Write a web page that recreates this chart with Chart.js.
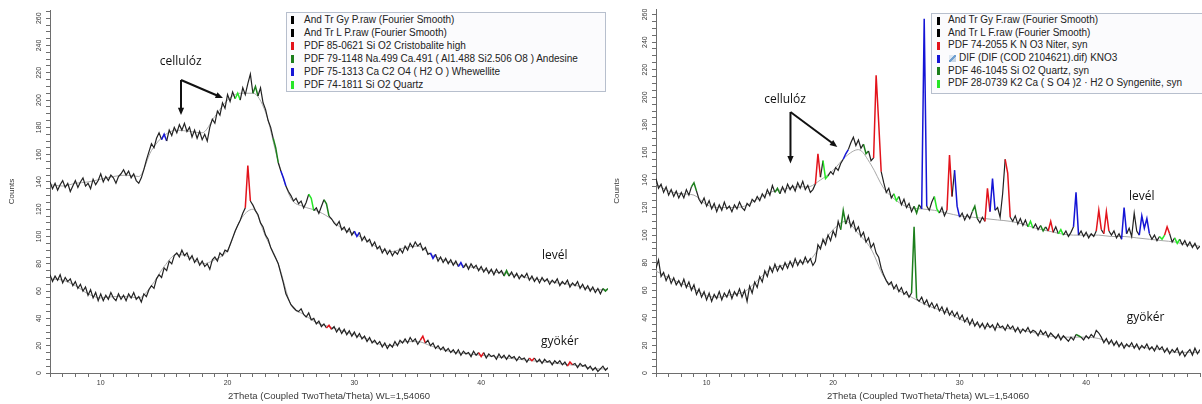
<!DOCTYPE html>
<html>
<head>
<meta charset="utf-8">
<script src="https://cdn.jsdelivr.net/npm/chart.js@4.4.1/dist/chart.umd.min.js"></script>
<style>
  body { margin: 0; background: #fff; width: 1202px; height: 404px; overflow: hidden; position: relative;
         font-family: "Liberation Sans", Arial, sans-serif; }
  canvas { position: absolute; top: 0; }
  #leftChart { left: 0; }
  #rightChart { left: 610px; }
  .legend { position: absolute; border: 1px solid #b7bfcd; background: #fbfbfd; font-size: 10px; color: #222; }
  .legend div { position: relative; white-space: nowrap; }
  .legend i { position: absolute; width: 3px; height: 8px; }
  #leftLegend { left: 286px; top: 12px; width: 318px; height: 78px; }
  #leftLegend div { height: 13px; line-height: 13px; padding-left: 17px; }
  #leftLegend i { left: 4px; top: 3px; }
  #rightLegend { left: 931px; top: 13px; width: 290px; height: 79px; }
  #rightLegend div { height: 12.7px; line-height: 12.7px; padding-left: 16px; }
  #rightLegend i { left: 5px; top: 2.5px; }
  .dif { display: inline-block; width: 7px; height: 7px; margin: 0 3px 0 1px; vertical-align: -1px;
         background: linear-gradient(135deg, #dfe8f2 0 40%, #6f9fd0 40% 60%, #c9d6e4 60%); }
</style>
</head>
<body>
<canvas id="leftChart" width="610" height="404"></canvas>
<canvas id="rightChart" width="592" height="404"></canvas>
<div class="legend" id="leftLegend"></div>
<div class="legend" id="rightLegend"></div>
<script>
// Scan grid: 2Theta from 6° in 0.2° steps; background curves in 1° steps
const SCAN_START = 6;
const SCAN_STEP = 0.2;
const BG_STEP = 1;

const xTickLabels = [10, 20, 30, 40];
const yTickLabels = [0, 20, 40, 60, 80, 100, 120, 140, 160, 180, 200, 220, 240, 260];

// P series (left) — Fourier-smoothed counts
const leafP = [
  140, 135, 139, 134, 138, 141, 136, 139, 133, 137,
  141, 136, 140, 143, 137, 139, 135, 142, 138, 141,
  146, 140, 144, 141, 145, 143, 139, 144, 146, 149,
  145, 148, 143, 146, 141, 139, 143, 149, 156, 162,
  168, 165, 172, 176, 171, 175, 170, 178, 174, 180,
  176, 182, 178, 183, 177, 180, 173, 178, 172, 177,
  171, 175, 170, 180, 186, 183, 192, 189, 198, 194,
  204, 199, 206, 201, 205, 200, 209, 204, 212, 219,
  205, 210, 203, 209, 198, 193, 185, 180, 172, 165,
  154, 148, 143, 137, 133, 130, 126, 128, 124, 126,
  121, 125, 131, 128, 119, 121, 117, 122, 127, 124,
  115, 113, 110, 108, 111, 105, 107, 103, 106, 101,
  104, 100, 103, 97, 100, 96, 98, 93, 96, 91,
  93, 88, 91, 87, 90, 86, 89, 87, 91, 88,
  93, 90, 95, 92, 96, 93, 95, 90, 92, 87,
  88, 84, 87, 82, 85, 81, 84, 80, 83, 79,
  82, 78, 81, 77, 80, 76, 80, 77, 79, 75,
  78, 74, 77, 73, 76, 72, 76, 73, 75, 71,
  75, 71, 74, 70, 73, 69, 72, 70, 73, 68,
  71, 67, 70, 66, 70, 67, 69, 65, 68, 66,
  69, 64, 67, 65, 68, 63, 66, 64, 67, 62,
  65, 61, 64, 60, 63, 59, 62, 58, 62, 60,
  62
];
const rootP = [
  72, 67, 71, 68, 72, 66, 70, 67, 69, 64,
  67, 62, 65, 60, 63, 57, 61, 55, 59, 53,
  58, 53, 57, 54, 59, 55, 53, 58, 54, 57,
  53, 58, 55, 59, 54, 56, 52, 58, 56, 61,
  64, 62, 69, 72, 70, 77, 75, 82, 80, 86,
  88, 85, 90, 86, 88, 83, 86, 81, 84, 79,
  82, 78, 80, 76, 83, 85, 82, 88, 86, 90,
  89, 94, 99, 104, 108, 112, 117, 121, 152, 126,
  123, 119, 116, 110, 107, 101, 98, 92, 88, 84,
  80, 73, 66, 58, 54, 50, 48, 46, 45, 47,
  43, 41, 44, 39, 40, 36, 38, 34, 36, 33,
  35, 32, 34, 30, 33, 29, 32, 28, 31, 27,
  30, 26, 29, 25, 27, 23, 26, 22, 24, 21,
  23, 19, 22, 18, 21, 19, 23, 20, 24, 22,
  25, 22, 26, 23, 25, 21, 24, 27, 22, 24,
  20, 22, 18, 20, 17, 19, 16, 18, 15, 17,
  14, 17, 13, 16, 14, 15, 12, 16, 13, 15,
  12, 15, 11, 14, 12, 13, 10, 14, 11, 13,
  10, 13, 11, 12, 9, 12, 10, 11, 8, 11,
  9, 11, 8, 10, 7, 10, 8, 9, 6, 9,
  7, 9, 6, 8, 5, 8, 6, 7, 4, 7,
  5, 6, 3, 5, 2, 4, 1, 3, 5, 2,
  4
];
const leafPBg = [
  138, 137, 139, 140, 142, 144, 145, 144, 163, 174,
  178, 177, 176, 188, 200, 205, 205, 191, 155, 128,
  122, 119, 114, 106, 102, 97, 91, 89, 92, 93,
  87, 83, 80, 78, 76, 74, 73, 71, 69, 68,
  66, 65, 63, 61, 61
];
const rootPBg = [
  69, 68, 64, 58, 55, 56, 56, 55, 64, 78,
  87, 85, 80, 83, 90, 112, 120, 100, 80, 50,
  43, 37, 34, 31, 28, 25, 21, 20, 23, 23,
  20, 17, 15, 14, 13, 12, 11, 10, 9, 8,
  7, 6, 5, 3, 3
];

// F series (right)
const leafF = [
  141, 134, 137, 131, 135, 129, 133, 128, 132, 127,
  131, 127, 133, 129, 135, 138, 132, 126, 123, 127,
  121, 125, 119, 123, 117, 122, 118, 124, 119, 121,
  117, 122, 119, 124, 120, 118, 123, 121, 126, 124,
  128, 125, 130, 127, 133, 129, 136, 131, 134, 130,
  135, 131, 137, 133, 136, 132, 138, 134, 139, 133,
  136, 131, 133, 137, 159, 142, 154, 141, 143, 146,
  144, 149, 147, 152, 155, 159, 162, 167, 171, 165,
  169, 163, 166, 159, 161, 154, 156, 216, 182, 146,
  138, 131, 134, 127, 130, 125, 128, 122, 126, 120,
  123, 117, 121, 116, 122, 119, 257, 121, 118, 124,
  128, 119, 116, 120, 114, 118, 158, 128, 147, 121,
  113, 116, 111, 115, 112, 117, 121, 112, 109, 113,
  110, 134, 117, 141, 118, 120, 113, 130, 155, 145,
  113, 110, 114, 108, 112, 107, 111, 106, 110, 105,
  108, 104, 107, 103, 106, 103, 110, 102, 106, 101,
  104, 100, 103, 99, 102, 106, 131, 100, 103, 99,
  102, 98, 101, 99, 103, 118, 104, 101, 117, 103,
  100, 103, 98, 101, 97, 120, 101, 105, 99, 116,
  103, 100, 114, 105, 112, 101, 97, 100, 96, 99,
  97, 100, 106, 101, 95, 98, 94, 97, 93, 96,
  92, 95, 91, 94, 90, 92
];
const rootF = [
  76, 82, 70, 73, 67, 71, 65, 69, 64, 67,
  63, 68, 62, 66, 60, 64, 57, 61, 55, 59,
  53, 58, 52, 57, 54, 59, 53, 58, 55, 60,
  54, 59, 56, 61, 55, 60, 52, 63, 58, 66,
  62, 70, 66, 74, 70, 77, 73, 79, 74, 78,
  75, 80, 76, 81, 77, 83, 78, 82, 79, 84,
  80, 83, 78, 81, 93, 90, 97, 93, 100, 96,
  103, 99, 110, 104, 118, 108, 114, 106, 110, 103,
  106, 99, 102, 95, 98, 91, 94, 87, 84, 76,
  71, 67, 64, 66, 61, 64, 59, 62, 57, 59,
  55, 58, 106, 54, 52, 55, 50, 53, 48, 51,
  47, 50, 45, 48, 43, 47, 42, 45, 41, 44,
  39, 42, 37, 40, 35, 39, 34, 37, 33, 36,
  32, 36, 33, 35, 31, 36, 33, 34, 31, 35,
  32, 34, 30, 33, 29, 32, 30, 33, 29, 31,
  30, 27, 31, 28, 30, 26, 29, 27, 25, 28,
  24, 27, 25, 23, 26, 24, 28, 27, 26, 24,
  27, 25, 28, 26, 31, 29, 26, 22, 25, 21,
  24, 20, 23, 19, 22, 18, 21, 19, 22, 18,
  21, 17, 20, 18, 21, 17, 19, 16, 20, 17,
  19, 15, 18, 14, 17, 15, 18, 13, 16, 12,
  15, 17, 13, 18, 14, 17
];
const leafFBg = [
  137, 132, 130, 129, 122, 120, 120, 121, 126, 131,
  133, 135, 135, 140, 147, 157, 162, 151, 134, 125,
  120, 119, 118, 116, 114, 113, 112, 111, 110, 108,
  105, 103, 101, 100, 100, 100, 99, 99, 98, 97,
  96, 95, 93, 92
];
const rootFBg = [
  74, 69, 65, 61, 56, 55, 57, 59, 67, 75,
  78, 80, 81, 92, 104, 110, 101, 90, 70, 61,
  56, 51, 47, 44, 39, 36, 34, 33, 32, 31,
  29, 27, 26, 26, 26, 25, 22, 20, 19, 18,
  17, 15, 15, 15
];

// Phase peaks (2Theta) flagged on each scan
const leafPAndesine = [22.2, 23.8, 27.8, 42.0, 49.8];
const leafPWhewellite = [15.0, 24.4, 30.2, 36.2, 38.4];
const leafPQuartz = [20.8, 26.6];
const rootPCristobalite = [21.6, 28.0, 35.4, 40.0, 44.0, 47.0];

const leafFNiter = [18.8, 23.4, 23.6, 29.2, 32.2, 33.8, 37.2, 41.0, 41.6, 46.4];
const leafFKno3 = [21.0, 27.2, 29.8, 32.6, 39.2, 43.0, 44.4, 44.8];
const leafFQuartz = [9.0, 15.6, 22.6, 26.6, 31.2, 36.6];
const leafFSyngenite = [19.4, 25.0, 28.2, 35.6, 38.0, 46.0, 47.2];
const rootFQuartz = [20.8, 26.4, 39.4];

const leftLegendLabels = [
  'And Tr Gy P.raw (Fourier Smooth)',
  'And Tr L P.raw (Fourier Smooth)',
  'PDF 85-0621 Si O2 Cristobalite high',
  'PDF 79-1148 Na.499 Ca.491 ( Al1.488 Si2.506 O8 ) Andesine',
  'PDF 75-1313 Ca C2 O4 ( H2 O ) Whewellite',
  'PDF 74-1811 Si O2 Quartz'
];
const rightLegendLabels = [
  'And Tr Gy F.raw (Fourier Smooth)',
  'And Tr L F.raw (Fourier Smooth)',
  'PDF 74-2055 K N O3 Niter, syn',
  'DIF (DIF (COD 2104621).dif) KNO3',
  'PDF 46-1045 Si O2 Quartz, syn',
  'PDF 28-0739 K2 Ca ( S O4 )2 · H2 O Syngenite, syn'
];

const X_TITLE = '2Theta (Coupled TwoTheta/Theta) WL=1,54060';

const RED = '#e3131b';
const BLUE = '#1515d6';
const DARK_GREEN = '#1c7f1c';
const LIGHT_GREEN = '#27e627';
const AXIS_COLOR = '#6e6e6e';
const TEXT_COLOR = '#3a3a3a';
const TICK_FONT = { family: "'Liberation Sans', Arial", size: 7 };
const TITLE_FONT = { family: "'Liberation Sans', Arial", size: 9.5 };

function toPoints(values, step) {
  return values.map((v, i) => ({ x: +(SCAN_START + i * step).toFixed(2), y: v }));
}

// colour the segments lying on a flagged phase peak
function phaseSegments(phases) {
  const pick = ctx => {
    const mid = (ctx.p0.parsed.x + ctx.p1.parsed.x) / 2;
    for (const [peaks, color] of phases) {
      if (peaks.some(p => Math.abs(p - mid) < 0.2)) return color;
    }
    return undefined;
  };
  return {
    borderColor: pick,
    borderWidth: ctx => (pick(ctx) ? 1.5 : undefined),
  };
}

function scanDataset(values, phases) {
  return {
    data: toPoints(values, SCAN_STEP),
    borderColor: '#222',
    borderWidth: 1.2,
    pointRadius: 0,
    tension: 0,
    order: 1,
    segment: phaseSegments(phases),
  };
}

function bgDataset(values) {
  return {
    data: toPoints(values, BG_STEP),
    borderColor: '#a8a8a8',
    borderWidth: 1,
    pointRadius: 0,
    cubicInterpolationMode: 'monotone',
    order: 2,
  };
}

function drawArrow(ctx, x0, y0, x1, y1) {
  const ang = Math.atan2(y1 - y0, x1 - x0);
  const head = 8;
  ctx.lineWidth = 2;
  ctx.beginPath();
  ctx.moveTo(x0, y0);
  ctx.lineTo(x1 - Math.cos(ang) * head * 0.8, y1 - Math.sin(ang) * head * 0.8);
  ctx.stroke();
  ctx.beginPath();
  ctx.moveTo(x1, y1);
  ctx.lineTo(x1 - head * Math.cos(ang - 0.4), y1 - head * Math.sin(ang - 0.4));
  ctx.lineTo(x1 - head * Math.cos(ang + 0.4), y1 - head * Math.sin(ang + 0.4));
  ctx.closePath();
  ctx.fill();
}

// sample labels and the arrows to the cellulose humps, placed in data units
const notesPlugin = {
  id: 'notes',
  afterDatasetsDraw(chart, args, opts) {
    const { ctx, scales: { x, y } } = chart;
    ctx.save();
    ctx.fillStyle = '#111';
    ctx.strokeStyle = '#111';
    ctx.font = "12px 'Open Sans'";
    ctx.textAlign = 'center';
    ctx.textBaseline = 'middle';
    opts.labels.forEach(([text, tx, ty]) => {
      ctx.fillText(text, x.getPixelForValue(tx), y.getPixelForValue(ty));
    });
    opts.arrows.forEach(([ax, ay, bx, by]) => {
      drawArrow(ctx, x.getPixelForValue(ax), y.getPixelForValue(ay),
                x.getPixelForValue(bx), y.getPixelForValue(by));
    });
    ctx.restore();
  },
};

function buildPanel(id, cfg) {
  return new Chart(document.getElementById(id), {
    type: 'line',
    data: {
      datasets: [
        bgDataset(cfg.topBg),
        bgDataset(cfg.bottomBg),
        scanDataset(cfg.top, cfg.topPhases),
        scanDataset(cfg.bottom, cfg.bottomPhases),
      ],
    },
    plugins: [notesPlugin],
    options: {
      responsive: false,
      animation: false,
      events: [],
      layout: { padding: cfg.padding },
      plugins: {
        legend: { display: false },
        tooltip: { enabled: false },
        notes: cfg.notes,
      },
      scales: {
        x: {
          type: 'linear',
          min: SCAN_START,
          max: cfg.xMax,
          afterFit: s => { s.height = 31; },
          border: { color: AXIS_COLOR },
          grid: { drawOnChartArea: false, tickLength: 4, color: AXIS_COLOR },
          ticks: {
            stepSize: 1,
            autoSkip: false,
            maxRotation: 0,
            padding: 2,
            font: TICK_FONT,
            color: TEXT_COLOR,
            callback: v => (xTickLabels.includes(v) ? String(v) : ''),
          },
          title: { display: true, text: X_TITLE, font: TITLE_FONT, color: TEXT_COLOR, padding: { top: 0, bottom: 2 } },
        },
        y: {
          min: 0,
          max: cfg.yMax,
          afterFit: s => { s.width = cfg.axisWidth; },
          border: { color: AXIS_COLOR },
          grid: { drawOnChartArea: false, tickLength: 4, color: AXIS_COLOR },
          ticks: {
            stepSize: 5,
            includeBounds: false,
            autoSkip: false,
            minRotation: 90,
            maxRotation: 90,
            crossAlign: 'center',
            padding: 1,
            font: TICK_FONT,
            color: TEXT_COLOR,
            callback: v => (yTickLabels.includes(v) ? String(v) : ''),
          },
          title: {
            display: true, text: 'Counts', color: TEXT_COLOR,
            font: { family: "'Liberation Sans', Arial", size: 8 },
            padding: { top: cfg.titlePad, bottom: 0 },
          },
        },
      },
    },
  });
}

buildPanel('leftChart', {
  top: leafP, bottom: rootP, topBg: leafPBg, bottomBg: rootPBg,
  topPhases: [[leafPAndesine, DARK_GREEN], [leafPWhewellite, BLUE], [leafPQuartz, LIGHT_GREEN]],
  bottomPhases: [[rootPCristobalite, RED]],
  xMax: 50, yMax: 266, axisWidth: 50, titlePad: 7,
  padding: { left: 0, right: 2, top: 10, bottom: 0 },
  notes: {
    labels: [['cellulóz', 16.3, 228], ['levél', 45.8, 86], ['gyökér', 46.2, 23]],
    arrows: [[16.33, 214.7, 16.33, 189], [16.33, 214.7, 19.64, 201.5]],
  },
});

buildPanel('rightChart', {
  top: leafF, bottom: rootF, topBg: leafFBg, bottomBg: rootFBg,
  topPhases: [[leafFNiter, RED], [leafFKno3, BLUE], [leafFQuartz, DARK_GREEN], [leafFSyngenite, LIGHT_GREEN]],
  bottomPhases: [[rootFQuartz, DARK_GREEN]],
  xMax: 49, yMax: 264, axisWidth: 46, titlePad: 2,
  padding: { left: 0, right: 0, top: 9, bottom: 0 },
  notes: {
    labels: [['cellulóz', 16.2, 198], ['levél', 44.4, 127.6], ['gyökér', 44.7, 40]],
    arrows: [[16.63, 189.3, 16.63, 152], [16.63, 189.3, 20.33, 164]],
  },
});

// legend boxes
function fillLegend(id, labels, colors, iconRow) {
  const box = document.getElementById(id);
  labels.forEach((label, i) => {
    const row = document.createElement('div');
    const mark = document.createElement('i');
    mark.style.background = colors[i];
    row.appendChild(mark);
    if (i === iconRow) {
      const icon = document.createElement('span');
      icon.className = 'dif';
      row.appendChild(icon);
    }
    row.appendChild(document.createTextNode(label));
    box.appendChild(row);
  });
}

fillLegend('leftLegend', leftLegendLabels, ['#000', '#000', RED, DARK_GREEN, BLUE, LIGHT_GREEN], -1);
fillLegend('rightLegend', rightLegendLabels, ['#000', '#000', RED, BLUE, DARK_GREEN, LIGHT_GREEN], 3);
</script>
</body>
</html>
